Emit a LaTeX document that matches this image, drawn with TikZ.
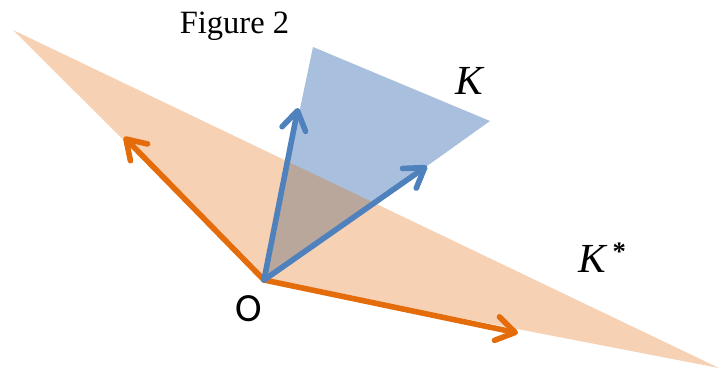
\documentclass[tikz,border=0pt]{standalone}
\usepackage{fontspec}
\setmainfont{Liberation Serif}
\newfontfamily\labelfont{Carlito}
\usetikzlibrary{arrows.meta}
\definecolor{dualorange}{HTML}{E46C0A}
\definecolor{dualfill}{HTML}{F6D1B4}
\definecolor{coneblue}{HTML}{4F81BD}
\definecolor{conefill}{HTML}{A9BFDE}
\definecolor{overlapfill}{HTML}{B9A79B}
\tikzset{
  >={Straight Barb[length=14pt, width=18pt, line width=4.2pt, round]},
  orangevec/.style={->, line width=4.2pt, draw=dualorange, line cap=round},
  bluevec/.style={->, line width=4.2pt, draw=coneblue, line cap=round},
  lbl/.style={inner sep=0pt, anchor=base},
}
\begin{document}
\begin{tikzpicture}[x=0.75pt, y=-0.75pt]
    \useasboundingbox (0,0) rectangle (719,371);
    \coordinate (O) at (264,280);
    \coordinate (dualA) at (124,137);
    \coordinate (dualB) at (518,333);
    \coordinate (coneA) at (298,108);
    \coordinate (coneB) at (427,166);
    % shaded regions
    \fill[dualfill] (13,30) -- (O) -- (719,368) -- cycle;
    \fill[conefill] (313,47) -- (490,121) -- (427,166) -- (O) -- cycle;
    \begin{scope}
      \clip (13,30) -- (O) -- (719,368) -- cycle;
      \fill[overlapfill] (313,47) -- (490,121) -- (427,166) -- (O) -- cycle;
    \end{scope}
    % vectors
    \draw[orangevec] (O) -- (dualA);
    \draw[orangevec] (O) -- (dualB);
    \draw[bluevec] (O) -- (coneA);
    \draw[bluevec] (O) -- (coneB);
    % labels
    \node[lbl] (title) at (234.5,33) {\fontsize{24.4pt}{26pt}\selectfont Figure 2};
    \node[lbl] (Klabel) at (469.5,94) {\fontsize{31pt}{34pt}\selectfont\itshape K};
    \node[lbl] (Kstar) at (602,272) {\fontsize{31pt}{34pt}\selectfont\itshape K\,\raisebox{9pt}{\fontsize{20pt}{20pt}\selectfont\upshape\bfseries *}};
    \node[lbl] (Olabel) at (249,321) {\labelfont\fontsize{30pt}{32pt}\selectfont O};
  \end{tikzpicture}
\end{document}
